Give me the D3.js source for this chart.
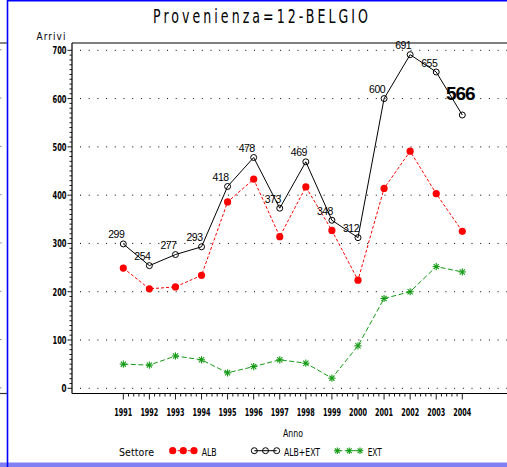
<!DOCTYPE html>
<html>
<head>
<meta charset="utf-8">
<script src="https://cdn.jsdelivr.net/npm/d3@7"></script>
<style>
html,body{margin:0;padding:0;background:#fff;}
svg{display:block;}
</style>
</head>
<body>
<script>
const years = [1991,1992,1993,1994,1995,1996,1997,1998,1999,2000,2001,2002,2003,2004];
const albExt = [299,254,277,293,418,478,373,469,348,312,600,691,655,566];
const alb = [249,206,210,234,386,433,314,417,327,224,414,491,403,325];
const ext = [50,48,67,59,32,45,59,52,21,88,186,200,252,241];
const yTicks = [0,100,200,300,400,500,600,700];
const title = "Provenienza=12-BELGIO";
const legendLabels = ["ALB","ALB+EXT","EXT"];

const W = 507, H = 467;
const svg = d3.select("body").append("svg").attr("width", W).attr("height", H);
const font = "'DejaVu Sans Condensed','DejaVu Sans',sans-serif";

const x = d3.scaleLinear().domain([1991,2004]).range([123.3,462.3]);
const y = d3.scaleLinear().domain([0,700]).range([388.3,50.3]);
const axL = 72, axT = 43, axB = 393.5;

// page decorations
svg.append("rect").attr("x",0).attr("y",462.5).attr("width",W).attr("height",5).attr("fill","#8080f4");
svg.append("line").attr("x1",7.5).attr("x2",7.5).attr("y1",0).attr("y2",H).attr("stroke","#0000ff").attr("stroke-width",1.6);
svg.append("line").attr("x1",7).attr("x2",W).attr("y1",0.8).attr("y2",0.8).attr("stroke","#0000ff").attr("stroke-width",1.6);
[axT, axB].forEach(v => svg.append("line").attr("x1",0).attr("x2",7).attr("y1",v).attr("y2",v).attr("stroke","#333").attr("stroke-width",1.2));
yTicks.forEach(t => svg.append("line").attr("x1",0).attr("x2",1.5).attr("y1",y(t)-0.5).attr("y2",y(t)-0.5).attr("stroke","#888"));

// title (narrow, widely spaced)
svg.append("g").attr("transform","translate(153,22.5) scale(0.7,1)")
  .append("text").attr("x",0).attr("y",0).attr("font-family",font).attr("font-size",20)
  .attr("textLength",215/0.7).attr("lengthAdjust","spacing").attr("fill","#000").text(title);

// grid
svg.append("g").selectAll("line").data(yTicks).join("line")
  .attr("x1",80).attr("x2",W).attr("y1",d=>y(d)).attr("y2",d=>y(d))
  .attr("stroke","#000").attr("stroke-width",1).attr("stroke-dasharray","1,7.7");

// frame
svg.append("line").attr("x1",axL).attr("x2",W).attr("y1",axT).attr("y2",axT).attr("stroke","#000").attr("stroke-width",1.2);
svg.append("line").attr("x1",axL).attr("x2",axL).attr("y1",axT).attr("y2",axB).attr("stroke","#000").attr("stroke-width",1.2);
svg.append("line").attr("x1",axL).attr("x2",W).attr("y1",axB).attr("y2",axB).attr("stroke","#000").attr("stroke-width",1.2);

// y axis ticks
const yMinor = d3.range(0,701,10);
svg.append("g").selectAll("line").data(yMinor).join("line")
  .attr("x1",d=> d%100===0 ? 67.5 : 69.5).attr("x2",axL).attr("y1",d=>y(d)).attr("y2",d=>y(d))
  .attr("stroke","#000").attr("stroke-width",0.9);
svg.append("g").selectAll("text").data(yTicks).join("text")
  .attr("x",66.5).attr("y",d=>y(d)+4).attr("text-anchor","end")
  .attr("font-family",font).attr("font-size",10.5).attr("font-weight","bold")
  .attr("textLength",d=> String(d).length===1 ? 5 : 14).attr("lengthAdjust","spacingAndGlyphs")
  .text(d=>d);
svg.append("text").attr("x",36.5).attr("y",40).attr("font-family",font).attr("font-size",10)
  .attr("textLength",29).attr("lengthAdjust","spacing").text("Arrivi");

// x axis ticks
const xMinor = d3.range(0, 13*5+1).map(i => 1991 + i/5);
svg.append("g").selectAll("line").data(xMinor).join("line")
  .attr("x1",d=>x(d)).attr("x2",d=>x(d)).attr("y1",axB).attr("y2",(d,i)=> i%5===0 ? axB+6 : axB+3)
  .attr("stroke","#000").attr("stroke-width",0.9);
svg.append("g").selectAll("text").data(years).join("text")
  .attr("x",d=>x(d)).attr("y",415.5).attr("text-anchor","middle")
  .attr("font-family",font).attr("font-size",10.5).attr("font-weight","bold")
  .attr("textLength",18).attr("lengthAdjust","spacingAndGlyphs").text(d=>d);
svg.append("text").attr("x",293).attr("y",437).attr("text-anchor","middle").attr("font-family",font)
  .attr("font-size",10.5).attr("textLength",20).attr("lengthAdjust","spacingAndGlyphs").text("Anno");

// series
const red = "#ff0000", green = "#149a14";
function star(g, cx, cy, r, color){
  [[r,0],[0,r],[r*0.72,r*0.72],[r*0.72,-r*0.72]].forEach(([dx,dy])=>{
    g.append("line").attr("x1",cx-dx).attr("x2",cx+dx).attr("y1",cy-dy).attr("y2",cy+dy)
      .attr("stroke",color).attr("stroke-width",1.1);
  });
}
const line = d3.line().x(d=>x(d[0])).y(d=>y(d[1]));

svg.append("path").datum(years.map((yr,i)=>[yr,ext[i]])).attr("d",line)
  .attr("fill","none").attr("stroke",green).attr("stroke-width",1).attr("stroke-dasharray","5,2.5");
svg.append("path").datum(years.map((yr,i)=>[yr,alb[i]])).attr("d",line)
  .attr("fill","none").attr("stroke",red).attr("stroke-width",1).attr("stroke-dasharray","3,2");
svg.append("path").datum(years.map((yr,i)=>[yr,albExt[i]])).attr("d",line)
  .attr("fill","none").attr("stroke","#000").attr("stroke-width",1);

const gs = svg.append("g");
years.forEach((yr,i)=> star(gs, x(yr), y(ext[i]), 3.6, green));
svg.append("g").selectAll("circle").data(years).join("circle")
  .attr("cx",d=>x(d)).attr("cy",(d,i)=>y(alb[i])).attr("r",3.6).attr("fill",red);
svg.append("g").selectAll("circle").data(years).join("circle")
  .attr("cx",d=>x(d)).attr("cy",(d,i)=>y(albExt[i])).attr("r",3).attr("fill","none")
  .attr("stroke","#000").attr("stroke-width",1);

// value labels
svg.append("g").selectAll("text").data(years).join("text")
  .attr("x",(d,i)=> i===13 ? x(d)-2 : x(d)-7)
  .attr("y",(d,i)=> i===13 ? y(albExt[i])-15 : y(albExt[i])-5.5)
  .attr("text-anchor","middle")
  .attr("font-family","'Liberation Sans',Arial,sans-serif")
  .attr("font-size",(d,i)=> i===13 ? 19 : 10.5)
  .attr("font-weight",(d,i)=> i===13 ? "bold" : "normal")
  .attr("letter-spacing",(d,i)=> i===13 ? -1 : -0.5)
  .text((d,i)=>albExt[i]);

// legend
const ly = 450.7, lt = 455.5;
svg.append("text").attr("x",119).attr("y",lt).attr("font-family",font).attr("font-size",10.5)
  .attr("textLength",35).attr("lengthAdjust","spacing").text("Settore");
const legendX = [172.7, 254.3, 337.3];
const textX = [201.7, 284, 367.7];
const textW = [15, 36, 14];
// ALB
svg.append("line").attr("x1",legendX[0]).attr("x2",legendX[0]+21.3).attr("y1",ly).attr("y2",ly)
  .attr("stroke",red).attr("stroke-dasharray","3,2");
[0,10.6,21.3].forEach(o=> svg.append("circle").attr("cx",legendX[0]+o).attr("cy",ly).attr("r",3.6).attr("fill",red));
// ALB+EXT
svg.append("line").attr("x1",legendX[1]).attr("x2",legendX[1]+22.4).attr("y1",ly).attr("y2",ly).attr("stroke","#000");
[0,11.2,22.4].forEach(o=> svg.append("circle").attr("cx",legendX[1]+o).attr("cy",ly).attr("r",3).attr("fill","none").attr("stroke","#000"));
// EXT
svg.append("line").attr("x1",legendX[2]).attr("x2",legendX[2]+22.7).attr("y1",ly).attr("y2",ly)
  .attr("stroke",green).attr("stroke-dasharray","5,2.5");
const gl = svg.append("g");
[0,12,22.7].forEach(o=> star(gl, legendX[2]+o, ly, 3.3, green));
legendLabels.forEach((t,i)=> svg.append("text").attr("x",textX[i]).attr("y",lt).attr("font-family",font)
  .attr("font-size",10.5).attr("textLength",textW[i]).attr("lengthAdjust","spacingAndGlyphs").text(t));
</script>
</body>
</html>
